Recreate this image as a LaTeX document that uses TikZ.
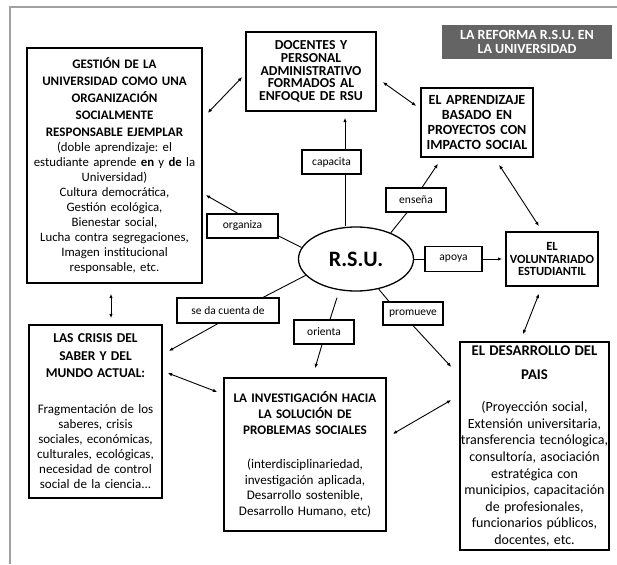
\documentclass[tikz,border=0pt]{standalone}
\usepackage{fontspec}
\setmainfont{Carlito}
\usetikzlibrary{arrows.meta,shapes.geometric}
\frenchspacing

\definecolor{framegray}{RGB}{160,160,160}
\definecolor{titlegray}{RGB}{100,100,100}
\newcommand\fsz[2]{\fontsize{#1}{#2}\selectfont}

\begin{document}
\begin{tikzpicture}[x=1pt,y=-1pt,
  % text width is set 10pt wider than the frame so that no planned line breaks twice
  box/.style={draw, line width=1.4pt, align=center, inner xsep=-5pt, inner ysep=2pt, font=\fsz{12.8}{15}},
  tag/.style={draw, line width=1.1pt, align=center, inner sep=0pt, font=\fsz{11.5}{13}},
  link/.style={line width=0.9pt},
  tip/.tip={Latex[length=4.5pt,width=3.5pt]},
  arr/.style={line width=0.9pt, -tip},
  darr/.style={line width=0.9pt, tip-tip},
]
\useasboundingbox (0,0) rectangle (617,564);
\fill[white] (0,0) rectangle (617,564);
% page frame
\draw[framegray, line width=1.5pt] (10,564) -- (10,7) -- (617,7);

% heading
\node[fill=titlegray, text=white, minimum width=170pt, minimum height=34pt, inner sep=0pt,
      align=center, font=\bfseries\fsz{14}{13.3}] (ttl) at (527,42)
  {LA REFORMA R.S.U. EN\\ LA UNIVERSIDAD};

% central ellipse
\node[ellipse, draw, line width=1.3pt, minimum width=115pt, minimum height=64pt, inner sep=0pt,
      font=\bfseries\fsz{22}{24}] (rsu) at (356,259) {R.S.U.};

% main boxes
\node[box, minimum width=175pt, minimum height=235pt, text width=185pt] (gest) at (114.5,165.5)
  {{\bfseries\fsz{13}{17}GESTIÓN DE LA\\ UNIVERSIDAD COMO UNA\\ ORGANIZACIÓN\\ SOCIALMENTE\\ RESPONSABLE EJEMPLAR\par}
   {\fsz{12.8}{15}(doble aprendizaje: el\\ estudiante aprende \textbf{en} y \textbf{de} la\\ Universidad)\\ Cultura democrática,\\ Gestión ecológica,\\ Bienestar social,\\ Lucha contra segregaciones,\\ Imagen institucional\\ responsable, etc.\par}};

\node[box, minimum width=130pt, minimum height=79pt, text width=140pt, font=\bfseries\fsz{13.7}{12.8}] (doc) at (311,71.5)
  {DOCENTES Y\\ PERSONAL\\ ADMINISTRATIVO\\ FORMADOS AL\\ ENFOQUE DE RSU};

\node[box, minimum width=112pt, minimum height=69pt, text width=122pt, font=\bfseries\fsz{14}{14.7}] (apr) at (477,122.5)
  {EL APRENDIZAJE\\ BASADO EN\\ PROYECTOS CON\\ IMPACTO SOCIAL};

\node[box, minimum width=92pt, minimum height=54pt, text width=102pt, font=\bfseries\fsz{12.5}{12.5}] (vol) at (552,259)
  {EL\\ VOLUNTARIADO\\ ESTUDIANTIL};

\node[box, minimum width=133pt, minimum height=173pt, text width=143pt] (crs) at (95.5,411.5)
  {{\bfseries\fsz{13.5}{17.5}LAS CRISIS DEL\\ SABER Y DEL\\ MUNDO ACTUAL:\par}\vspace{21pt}
   {\fsz{13}{15}Fragmentación de los\\ saberes, crisis\\ sociales, económicas,\\ culturales, ecológicas,\\ necesidad de control\\ social de la ciencia...\par}};

\node[box, minimum width=162pt, minimum height=153pt, text width=172pt] (inv) at (305,454.5)
  {{\bfseries\fsz{13.1}{16}LA INVESTIGACIÓN HACIA\\ LA SOLUCIÓN DE\\ PROBLEMAS SOCIALES\par}\vspace{18pt}
   {\fsz{13.1}{15.6}(interdisciplinariedad,\\ investigación aplicada,\\ Desarrollo sostenible,\\ Desarrollo Humano, etc)\par}};

\node[box, minimum width=149pt, minimum height=208pt, text width=159pt] (des) at (534.5,446)
  {{\bfseries\fsz{14.8}{24}EL DESARROLLO DEL\\ PAIS\par}\vspace{15.5pt}
   {\fsz{14}{16.6}(Proyección social,\\ Extensión universitaria,\\ transferencia tecnólogica,\\ consultoría, asociación\\ estratégica con\\ municipios, capacitación\\ de profesionales,\\ funcionarios públicos,\\ docentes, etc.\par}};

% verb labels
\node[tag, minimum width=59pt, minimum height=24pt] (capa) at (331.5,162) {capacita};
\node[tag, minimum width=60pt, minimum height=24pt] (ens) at (416,200) {enseña};
\node[tag, minimum width=71pt, minimum height=24pt] (org) at (242.5,226) {organiza};
\node[tag, minimum width=57pt, minimum height=25pt] (apo) at (453.5,259) {apoya};
\node[tag, minimum width=102pt, minimum height=25pt] (sdc) at (228,310.5) {se da cuenta de};
\node[tag, minimum width=60pt, minimum height=24pt] (ori) at (324,332) {orienta};
\node[tag, minimum width=60pt, minimum height=23pt] (pro) at (413,313.5) {promueve};

% links from R.S.U. through the verb labels
\coordinate (capx) at (345,0);
\draw[link] (rsu.north -| capx) -- (capa.south -| capx);
\draw[arr, shorten >=6pt] (capa.north -| capx) -- (doc.south -| capx);

\draw[link] (rsu.37) -- ([xshift=-9pt]ens.south);
\draw[arr] ([xshift=6pt]ens.north) -- ([xshift=-39pt,yshift=-6pt]apr.south);

\draw[link] (rsu.168) -- ([yshift=-10pt]org.east);
\draw[arr] ([xshift=-4.5pt]org.north) -- ([xshift=3pt,yshift=-29.5pt]gest.east);

\draw[link] (rsu.east) -- (apo.west);
\draw[arr] (apo.east) -- ([xshift=-3pt]vol.west);

\draw[link] (rsu.198) -- ([xshift=35pt]sdc.north);
\draw[arr] ([xshift=-10pt]sdc.south) -- ([xshift=6pt,yshift=60.5pt]crs.east);

\draw[link] ([xshift=-19pt,yshift=-6pt]rsu.south) -- ([xshift=6pt]ori.north);
\draw[arr] ([xshift=-2pt]ori.south) -- ([xshift=10pt,yshift=9pt]inv.north);

\draw[link] (rsu.307) -- ([xshift=-24pt]pro.north);
\draw[arr] (pro.south) -- ([xshift=-8pt,yshift=79pt]des.west);

% two-way links between the boxes
\draw[darr] ([xshift=5pt,yshift=52.5pt]gest.east) -- ([xshift=-3pt,yshift=-5.5pt]doc.west);
\draw[darr] ([xshift=6pt,yshift=-10.5pt]doc.east) -- ([xshift=-4pt,yshift=16.5pt]apr.west);
\draw[darr] ([xshift=22pt,yshift=-7pt]apr.south) -- ([xshift=-13pt,yshift=5pt]vol.north);
\draw[darr] ([xshift=-3.5pt,yshift=-10pt]gest.south) -- ([xshift=15.5pt,yshift=6pt]crs.north);
\draw[darr] ([xshift=5pt,yshift=38.5pt]crs.east) -- ([xshift=-6pt,yshift=62.5pt]inv.west);
\draw[darr] ([xshift=6pt,yshift=20.5pt]inv.east) -- ([xshift=-8pt,yshift=46pt]des.west);
\draw[darr] ([xshift=-13pt,yshift=-7pt]vol.south) -- ([xshift=-11.5pt,yshift=7pt]des.north);
\end{tikzpicture}
\end{document}
